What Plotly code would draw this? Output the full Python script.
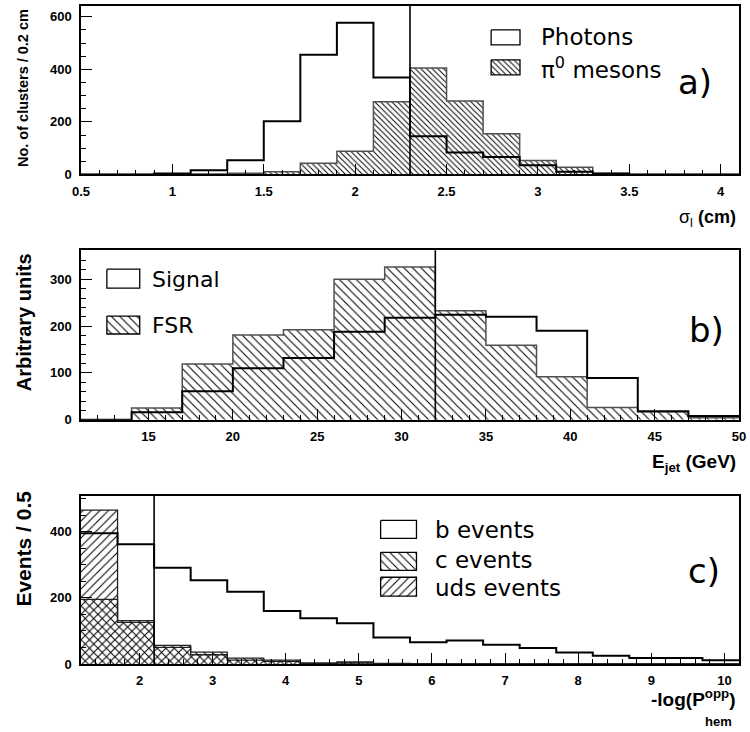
import plotly.graph_objects as go
import numpy as np

# ---------------- data ----------------
# Panel a) cluster width sigma_l (cm), bins of 0.2
sigma_edges = np.round(np.arange(0.5, 4.1001, 0.2), 2).tolist()
photons = [0, 0, 4, 16, 54, 203, 456, 577, 369, 145, 84, 67, 35, 10, 4, 0, 0, 0]
pi0_mesons = [0, 0, 0, 2, 5, 10, 43, 88, 277, 405, 280, 155, 53, 28, 4, 0, 0, 0]
sigma_cut = 2.3

# Panel b) jet energy (GeV), bins of 3
ejet_edges = list(range(11, 51, 3))
signal = [0, 16, 61, 110, 132, 188, 218, 224, 220, 190, 89, 18, 8]
fsr = [0, 25, 119, 181, 192, 300, 326, 233, 159, 92, 26, 17, 4]
ejet_cut = 32

# Panel c) -log(P_hem^opp), bins of 0.5
logp_edges = np.round(np.arange(1.2, 10.2001, 0.5), 2).tolist()
b_events = [395, 362, 291, 253, 218, 160, 138, 123, 80, 66, 71, 58, 48, 35, 25, 18, 18, 11]
c_events = [195, 131, 56, 36, 18, 12, 3, 6, 2, 1, 0, 0, 0, 0, 0, 0, 0, 0]
uds_events = [465, 126, 50, 28, 12, 8, 1, 3, 1, 0, 0, 0, 0, 0, 0, 0, 0, 0]
logp_cut = 2.2

# ---------------- layout geometry (pixels) ----------------
W, H = 750, 732
L, R, T, B = 81, 8, 4, 68
PW, PH = W - L - R, H - T - B


def px(x):
    return (x - L) / PW


def py(y):
    return (H - B - y) / PH


fig = go.Figure()


def hist(xa, ya, edges, vals, color, width, pattern=None):
    x = list(edges)
    y = list(vals) + [vals[-1]]
    kw = dict(x=x, y=y, mode='lines', xaxis=xa, yaxis=ya,
              line=dict(color=color, width=width, shape='hv'),
              showlegend=False, hoverinfo='skip')
    if pattern is not None:
        kw.update(fill='tozeroy', fillcolor='rgba(0,0,0,0)', fillpattern=pattern)
    fig.add_trace(go.Scatter(**kw))


def hatch(shape, size):
    return dict(shape=shape, size=size, solidity=0.24 if size <= 4 else 0.17,
                fgcolor='black', bgcolor='rgba(0,0,0,0)', fillmode='replace')


# panel a
hist('x', 'y', sigma_edges, pi0_mesons, '#505050', 1.5, hatch('\\', 4))
hist('x', 'y', sigma_edges, photons, 'black', 2)
# panel b
hist('x2', 'y2', ejet_edges, fsr, '#505050', 1.5, hatch('\\', 6))
hist('x2', 'y2', ejet_edges, signal, 'black', 2)
# panel c
hist('x3', 'y3', logp_edges, uds_events, '#202020', 1.3, hatch('/', 6))
hist('x3', 'y3', logp_edges, c_events, '#202020', 1.3, hatch('\\', 6))
hist('x3', 'y3', logp_edges, b_events, 'black', 2)


# ---------------- legend swatches (pixel overlay axis) ----------------
def swatch(x0, y0, x1, y1, pattern=None):
    kw = dict(x=[x0, x1, x1, x0, x0], y=[y0, y0, y1, y1, y0], mode='lines',
              xaxis='x4', yaxis='y4', line=dict(color='black', width=1.3),
              showlegend=False, hoverinfo='skip')
    if pattern is not None:
        kw.update(fill='toself', fillcolor='rgba(0,0,0,0)', fillpattern=pattern)
    fig.add_trace(go.Scatter(**kw))


swatch(493, 28, 522, 43)
swatch(493, 58, 522, 73, hatch('\\', 4))
swatch(107, 268, 140, 287)
swatch(107, 315, 140, 333, hatch('\\', 6))
swatch(382, 520, 418, 538)
swatch(382, 552, 418, 570, hatch('\\', 6))
swatch(382, 577, 418, 596, hatch('/', 6))

LEG_FONT = 'DejaVu Sans'
ann = []


def text(x, y, s, size, family=LEG_FONT, xanchor='left', yanchor='middle', angle=0, weight='normal'):
    ann.append(dict(x=px(x), y=py(y), xref='paper', yref='paper', text=s, showarrow=False,
                    xanchor=xanchor, yanchor=yanchor, textangle=angle,
                    font=dict(family=family, size=size, color='black', weight=weight)))


text(541, 35, 'Photons', 23)
text(541, 66, 'π<sup>0</sup> mesons', 23)
text(698, 80, 'a)', 34, xanchor='center')
text(150, 278, 'Signal', 22)
text(150, 324, 'FSR', 22)
text(709, 329, 'b)', 34, xanchor='center')
text(435, 530, 'b events', 23)
text(435, 560, 'c events', 23)
text(435, 588, 'uds events', 23)
text(707, 571, 'c)', 34, xanchor='center')

AX = 'Liberation Sans'
text(22, 86, 'No. of clusters / 0.2 cm', 14.5, family=AX, xanchor='center', angle=-90, weight='bold')
text(24, 321, 'Arbitrary units', 20, family=AX, xanchor='center', angle=-90, weight='bold')
text(23, 548, 'Events / 0.5', 21, family=AX, xanchor='center', angle=-90, weight='bold')
text(741, 217, 'σ<sub>l</sub> <b>(cm)</b>', 18, family=AX, xanchor='right')
text(741, 462, '<b>E<sub>jet</sub> (GeV)</b>', 19, family=AX, xanchor='right')
text(741, 698, '<b>-log(P<sup>opp</sup>)</b>', 19, family=AX, xanchor='right')
text(721, 722, '<b>hem</b>', 13, family=AX, xanchor='center')


# ---------------- axes ----------------
def xax(rng, dtick, minor, anchor):
    return dict(range=rng, dtick=dtick, tick0=0, anchor=anchor, domain=[0, 1],
                showline=True, linecolor='black', linewidth=1.5, mirror=True,
                ticks='inside', ticklen=11, tickwidth=1, tickcolor='black',
                minor=dict(ticks='inside', ticklen=5, tickwidth=1, tickcolor='black', dtick=minor, showgrid=False),
                showgrid=False, zeroline=False, ticklabelstandoff=4,
                tickfont=dict(family=AX, size=13, color='black', weight='bold'))


def yax(rng, dtick, minor, anchor, dom):
    d = xax(rng, dtick, minor, anchor)
    d['domain'] = dom
    d['ticklabelstandoff'] = 5
    return d


cuts = [('x', 'y', sigma_cut), ('x2', 'y2', ejet_cut), ('x3', 'y3', logp_cut)]
shapes = [dict(type='line', xref=xa, yref=ya + ' domain', x0=c, x1=c, y0=0, y1=1,
               line=dict(color='black', width=1.6), layer='above') for xa, ya, c in cuts]

fig.update_layout(
    width=W, height=H, margin=dict(l=L, r=R, t=T, b=B),
    paper_bgcolor='white', plot_bgcolor='rgba(0,0,0,0)',
    showlegend=False,
    xaxis=xax([0.5, 4.1], 0.5, 0.1, 'y'),
    yaxis=yax([0, 641], 200, 50, 'x', [py(173), py(4)]),
    xaxis2=xax([11, 50], 5, 1, 'y2'),
    yaxis2=yax([0, 362], 100, 20, 'x2', [py(419), py(249)]),
    xaxis3=xax([1.2, 10.2], 1, 0.2, 'y3'),
    yaxis3=yax([0, 509], 200, 50, 'x3', [py(664), py(495)]),
    xaxis4=dict(domain=[0, 1], range=[L, W - R], visible=False, anchor='y4', fixedrange=True),
    yaxis4=dict(domain=[0, 1], range=[H - B, T], visible=False, anchor='x4', fixedrange=True),
    annotations=ann, shapes=shapes,
)

fig.write_html('out.html', config={'displayModeBar': False},
               post_script="document.body.style.margin='0px';")
